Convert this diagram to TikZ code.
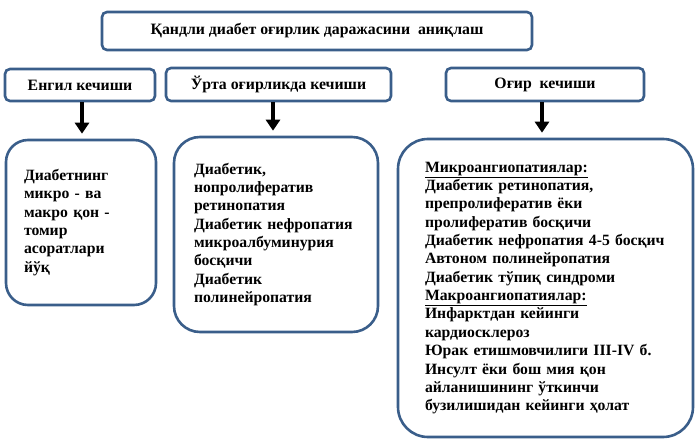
\documentclass[tikz,border=0pt]{standalone}
\usepackage{fontspec}
\setmainfont{Liberation Serif}
\usetikzlibrary{arrows.meta}
\definecolor{boxblue}{RGB}{58,94,138}
\tikzset{
  hbox/.style={draw=boxblue, line width=2.6pt, rounded corners=5pt, inner sep=0pt,
    font=\bfseries\fontsize{15.8}{18}\selectfont},
  bbox/.style={draw=boxblue, line width=2.6pt, inner sep=0pt, align=left,
    font=\bfseries\fontsize{15.7}{18.35}\selectfont},
  arr/.style={line width=3.4pt, -{Triangle[width=14pt,length=11pt]}, shorten >=5pt}
}
\begin{document}
\begin{tikzpicture}[x=1pt,y=-1pt]
\useasboundingbox (0,0) rectangle (697,441);
\node[hbox, minimum width=430pt, minimum height=38pt] (top) at (317,31) {Қандли диабет оғирлик даражасини\ \ аниқлаш};
\node[hbox, minimum width=150pt, minimum height=32pt] (h1) at (80,85) {Енгил кечиши};
\node[hbox, minimum width=225pt, minimum height=33pt] (h2) at (278.5,84.5) {Ўрта оғирликда кечиши};
\node[hbox, minimum width=198pt, minimum height=33pt] (h3) at (545,84.5) {Оғир\ \ кечиши};
\node[bbox, rounded corners=22pt, minimum width=150pt, minimum height=165pt, text width=114pt] (b1) at (81,222.5)
  {Диабетнинг\\микро - ва\\макро қон -\\томир\\асоратлари\\йўқ};
\node[bbox, rounded corners=26pt, minimum width=204pt, minimum height=195pt, text width=164pt] (b2) at (276,234.5)
  {Диабетик,\\нопролифератив\\ретинопатия\\Диабетик нефропатия\\микроалбуминурия\\босқичи\\Диабетик\\полинейропатия};
\node[bbox, rounded corners=30pt, minimum width=295pt, minimum height=298pt, text width=241pt] (b3) at (545.5,288)
  {\underline{Микроангиопатиялар:}\\Диабетик ретинопатия,\\препролифератив ёки\\пролифератив босқичи\\Диабетик нефропатия 4-5 босқич\\Автоном полинейропатия\\Диабетик тўпиқ синдроми\\\underline{Макроангиопатиялар:}\\Инфарктдан кейинги\\кардиосклероз\\Юрак етишмовчилиги III-IV б.\\Инсулт ёки бош мия қон\\айланишининг ўткинчи\\бузилишидан кейинги ҳолат};
\draw[arr] ([xshift=2pt]h1.south) -- ([xshift=1pt]b1.north);
\draw[arr] ([xshift=-5.5pt]h2.south) -- ([xshift=-3pt]b2.north);
\draw[arr] ([xshift=-3pt]h3.south) -- ([xshift=-3.5pt]b3.north);
\end{tikzpicture}
\end{document}
